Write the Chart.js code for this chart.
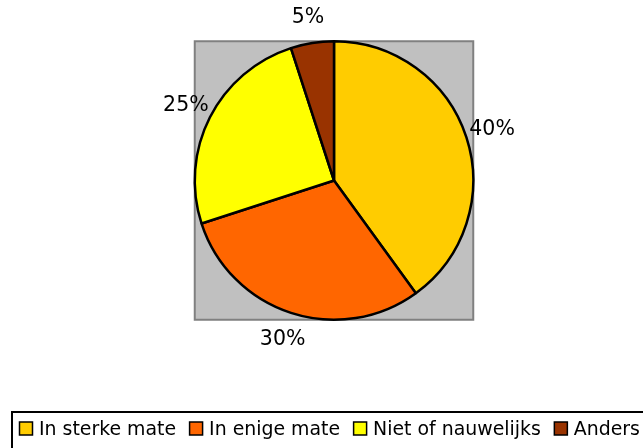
<!DOCTYPE html>
<html>
<head>
<meta charset="utf-8">
<script src="https://cdn.jsdelivr.net/npm/chart.js@4"></script>
<style>
html,body{margin:0;padding:0;background:#fff;}
canvas{display:block;}
</style>
</head>
<body>
<canvas id="c" width="643" height="448"></canvas>
<script>
const categories = ["In sterke mate", "In enige mate", "Niet of nauwelijks", "Anders"];
const shares = [40, 30, 25, 5];
const pctLabels = ["40%", "30%", "25%", "5%"];
const sliceColors = ["#FFCC00", "#FF6600", "#FFFF00", "#993300"];

const FONT = '"DejaVu Sans", Verdana, sans-serif';

const plotBg = {
  id: 'plotBg',
  beforeDatasetsDraw(chart) {
    const arc = chart.getDatasetMeta(0).data[0];
    if (!arc) return;
    const {x, y, outerRadius} = arc.getProps(['x','y','outerRadius'], true);
    const ctx = chart.ctx;
    ctx.save();
    ctx.fillStyle = '#C0C0C0';
    ctx.fillRect(x - outerRadius, y - outerRadius, outerRadius * 2, outerRadius * 2);
    ctx.strokeStyle = '#808080';
    ctx.lineWidth = 2;
    ctx.strokeRect(x - outerRadius, y - outerRadius, outerRadius * 2, outerRadius * 2);
    ctx.restore();
  }
};

const outLabels = {
  id: 'outLabels',
  afterDatasetsDraw(chart) {
    const ctx = chart.ctx;
    const meta = chart.getDatasetMeta(0);
    ctx.save();
    ctx.font = '20.5px ' + FONT;
    ctx.fillStyle = '#000';
    ctx.textAlign = 'center';
    ctx.textBaseline = 'middle';
    meta.data.forEach((arc, i) => {
      const p = arc.getProps(['x','y','startAngle','endAngle','outerRadius'], true);
      const mid = (p.startAngle + p.endAngle) / 2;
      const r = p.outerRadius + 27;
      ctx.fillText(pctLabels[i], p.x + Math.cos(mid) * r, p.y + Math.sin(mid) * r + 1);
    });
    ctx.restore();
  }
};

const boxLegend = {
  id: 'boxLegend',
  afterDraw(chart) {
    const ctx = chart.ctx;
    ctx.save();
    ctx.strokeStyle = '#000';
    ctx.lineWidth = 2;
    ctx.strokeRect(12, 412, 700, 100);
    ctx.font = '18.9px ' + FONT;
    ctx.textBaseline = 'middle';
    ctx.textAlign = 'left';
    let x = 19;
    const cy = 429;
    chart.data.labels.forEach((lab, i) => {
      ctx.fillStyle = chart.data.datasets[0].backgroundColor[i];
      ctx.fillRect(x + 0.5, cy - 7, 13, 13);
      ctx.lineWidth = 1.5;
      ctx.strokeStyle = '#000';
      ctx.strokeRect(x + 0.5, cy - 7, 13, 13);
      ctx.fillStyle = '#000';
      const tx = x + 14 + 6;
      ctx.fillText(lab, tx, cy + 1);
      x = tx + ctx.measureText(lab).width + 13;
    });
    ctx.restore();
  }
};

new Chart(document.getElementById('c'), {
  type: 'pie',
  data: {
    labels: categories,
    datasets: [{
      data: shares,
      backgroundColor: sliceColors,
      borderColor: '#000',
      borderWidth: 2.5
    }]
  },
  options: {
    responsive: false,
    animation: false,
    layout: { padding: { left: 193, right: 168, top: 40, bottom: 127 } },
    plugins: {
      legend: { display: false },
      tooltip: { enabled: false }
    }
  },
  plugins: [plotBg, outLabels, boxLegend]
});
</script>
</body>
</html>
